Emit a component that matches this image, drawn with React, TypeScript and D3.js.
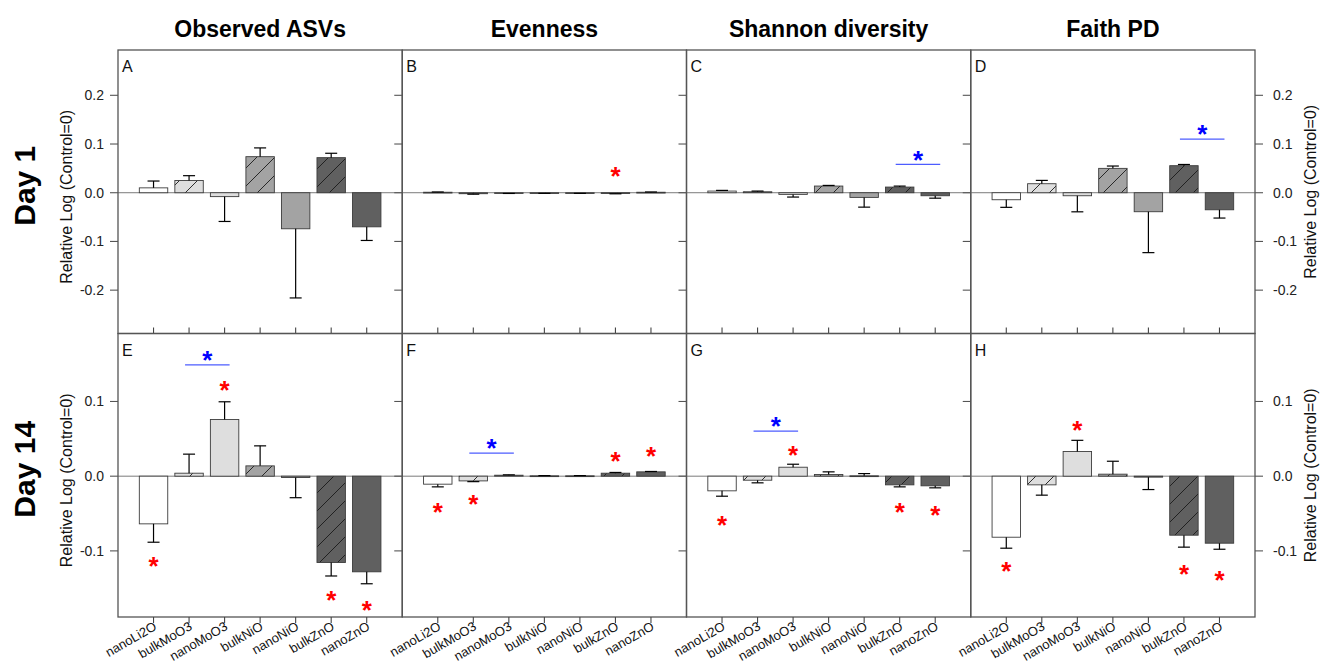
import React, { useEffect, useRef } from 'react';
import * as d3 from 'd3';

// categories + panel headings
const categories = ['nanoLi2O', 'bulkMoO3', 'nanoMoO3', 'bulkNiO', 'nanoNiO', 'bulkZnO', 'nanoZnO'];
const metrics = ['Observed ASVs', 'Evenness', 'Shannon diversity', 'Faith PD'];
const days = ['Day 1', 'Day 14'];
const letters = ['A', 'B', 'C', 'D', 'E', 'F', 'G', 'H'];
const hatched = [false, true, false, true, false, true, false];
const fills = ['#ffffff', '#dedede', '#dedede', '#a3a3a3', '#a3a3a3', '#606060', '#606060'];

// Day 1 means / standard errors
const meanA = [0.010, 0.025, -0.008, 0.074, -0.074, 0.072, -0.070];
const errA = [0.014, 0.010, 0.051, 0.018, 0.142, 0.009, 0.028];
const meanB = [0.001, -0.002, -0.001, -0.0008, -0.0008, -0.0015, 0.001];
const errB = [0.0005, 0.001, 0.0005, 0.0005, 0.0005, 0.0007, 0.0005];
const meanC = [0.0034, 0.002, -0.0034, 0.0137, -0.0096, 0.0116, -0.0062];
const errC = [0.0014, 0.0014, 0.0055, 0.0013, 0.020, 0.002, 0.005];
const meanD = [-0.0144, 0.0185, -0.0062, 0.050, -0.039, 0.0555, -0.035];
const errD = [0.0156, 0.0068, 0.033, 0.0048, 0.084, 0.0025, 0.017];

// Day 14
const meanE = [-0.0638, 0.004, 0.0759, 0.0138, -0.0018, -0.1156, -0.128];
const errE = [0.0246, 0.0255, 0.0237, 0.0268, 0.027, 0.018, 0.016];
const meanF = [-0.0107, -0.0063, 0.0013, 0.0005, 0.0005, 0.004, 0.0058];
const errF = [0.0036, 0.001, 0.0005, 0.0003, 0.0003, 0.001, 0.0005];
const meanG = [-0.0196, -0.0054, 0.012, 0.0022, 0.0005, -0.0116, -0.0129];
const errG = [0.0072, 0.0035, 0.004, 0.0036, 0.003, 0.0027, 0.0027];
const meanH = [-0.0817, -0.0116, 0.033, 0.0027, -0.0013, -0.079, -0.0897];
const errH = [0.0147, 0.0138, 0.015, 0.0173, 0.0166, 0.016, 0.0081];

// significance vs control: [category index, y]
const redA: [number, number][] = [];
const redB: [number, number][] = [[5, 0.0466]];
const redC: [number, number][] = [];
const redD: [number, number][] = [];
const redE: [number, number][] = [[0, -0.112], [2, 0.1228], [5, -0.158], [6, -0.171]];
const redF: [number, number][] = [[0, -0.040], [1, -0.030], [5, 0.0286], [6, 0.0353]];
const redG: [number, number][] = [[0, -0.057], [2, 0.0366], [5, -0.0406], [6, -0.0437]];
const redH: [number, number][] = [[0, -0.119], [2, 0.070], [5, -0.1237], [6, -0.1308]];

// bulk vs nano comparisons: [from, to, y]
const blueC: [number, number, number][] = [[5, 6, 0.058]];
const blueD: [number, number, number][] = [[5, 6, 0.110]];
const blueE: [number, number, number][] = [[1, 2, 0.149]];
const blueF: [number, number, number][] = [[1, 2, 0.0308]];
const blueG: [number, number, number][] = [[1, 2, 0.0603]];

const day1Ticks = [-0.2, -0.1, 0, 0.1, 0.2];
const day14Ticks = [-0.1, 0, 0.1];
const day1Domain: [number, number] = [-0.289, 0.293];
const day14Domain: [number, number] = [-0.1885, 0.191];

const panels = [
  { mean: meanA, err: errA, red: redA, blue: [] as [number, number, number][] },
  { mean: meanB, err: errB, red: redB, blue: [] as [number, number, number][] },
  { mean: meanC, err: errC, red: redC, blue: blueC },
  { mean: meanD, err: errD, red: redD, blue: blueD },
  { mean: meanE, err: errE, red: redE, blue: blueE },
  { mean: meanF, err: errF, red: redF, blue: blueF },
  { mean: meanG, err: errG, red: redG, blue: blueG },
  { mean: meanH, err: errH, red: redH, blue: [] as [number, number, number][] },
];

const FONT = 'Arial, "Liberation Sans", sans-serif';
const STAR = 26; // asterisk font size

const App: React.FC = () => {
  const svgRef = useRef<SVGSVGElement>(null);

  useEffect(() => {
    if (!svgRef.current) return;
    const svg = d3.select(svgRef.current);
    svg.selectAll('*').remove();

    const left = 118, right = 1255, top = 50, bottom = 617;
    const pw = (right - left) / 4;
    const ph = (bottom - top) / 2;
    const fmt = (v: number) => d3.format('.1f')(v).replace('\u2212', '-');

    // hatch pattern
    const defs = svg.append('defs');
    fills.forEach((f, i) => {
      if (!hatched[i]) return;
      const p = defs.append('pattern')
        .attr('id', `hatch${i}`)
        .attr('patternUnits', 'userSpaceOnUse')
        .attr('width', 18).attr('height', 18);
      p.append('rect').attr('width', 18).attr('height', 18).attr('fill', f);
      p.append('path')
        .attr('d', 'M0,18 L18,0 M-4.5,4.5 L4.5,-4.5 M13.5,22.5 L22.5,13.5')
        .attr('stroke', '#1a1a1a').attr('stroke-width', 0.9);
    });

    // column titles
    metrics.forEach((m, c) => {
      svg.append('text')
        .attr('x', left + pw * c + pw / 2)
        .attr('y', 37)
        .attr('text-anchor', 'middle')
        .attr('font-family', FONT)
        .attr('font-weight', 'bold')
        .attr('font-size', 23)
        .attr('fill', '#000')
        .text(m);
    });

    // row labels
    days.forEach((d, r) => {
      const cy = top + ph * r + ph / 2 - 6;
      svg.append('text')
        .attr('transform', `translate(35,${cy}) rotate(-90)`)
        .attr('text-anchor', 'middle')
        .attr('font-family', FONT)
        .attr('font-weight', 'bold')
        .attr('font-size', 30)
        .attr('fill', '#000')
        .text(d);
    });

    panels.forEach((pd, k) => {
      const r = Math.floor(k / 4);
      const c = k % 4;
      const x0 = left + pw * c;
      const y0 = top + ph * r;

      const x = d3.scalePoint<string>()
        .domain(categories)
        .range([x0, x0 + pw])
        .padding(1);
      const y = d3.scaleLinear()
        .domain(r === 0 ? day1Domain : day14Domain)
        .range([y0 + ph, y0]);
      const ticks = r === 0 ? day1Ticks : day14Ticks;
      const bw = x.step() * 0.8;

      const g = svg.append('g');

      // zero line
      g.append('line')
        .attr('x1', x0).attr('x2', x0 + pw)
        .attr('y1', y(0)).attr('y2', y(0))
        .attr('stroke', '#7a7a7a').attr('stroke-width', 1);

      // bars
      g.selectAll('.bar')
        .data(pd.mean)
        .enter().append('rect')
        .attr('x', (_, i) => (x(categories[i]) as number) - bw / 2)
        .attr('y', v => y(Math.max(0, v)))
        .attr('width', bw)
        .attr('height', v => Math.max(0.8, Math.abs(y(v) - y(0))))
        .attr('fill', (_, i) => hatched[i] ? `url(#hatch${i})` : fills[i])
        .attr('stroke', '#3c3c3c')
        .attr('stroke-width', 0.9);

      // error bars (one-sided, in bar direction)
      pd.mean.forEach((v, i) => {
        const cx = x(categories[i]) as number;
        const end = v >= 0 ? v + pd.err[i] : v - pd.err[i];
        g.append('line')
          .attr('x1', cx).attr('x2', cx)
          .attr('y1', y(v)).attr('y2', y(end))
          .attr('stroke', '#000').attr('stroke-width', 1.2);
        g.append('line')
          .attr('x1', cx - 6).attr('x2', cx + 6)
          .attr('y1', y(end)).attr('y2', y(end))
          .attr('stroke', '#000').attr('stroke-width', 1.2);
      });

      // red asterisks
      pd.red.forEach(([i, v]) => {
        g.append('text')
          .attr('x', x(categories[i]) as number)
          .attr('y', y(v) + STAR * 0.57)
          .attr('text-anchor', 'middle')
          .attr('font-family', FONT)
          .attr('font-weight', 'bold')
          .attr('font-size', STAR)
          .attr('fill', '#ff0000')
          .text('*');
      });

      // blue comparison brackets
      pd.blue.forEach(([i, j, v]) => {
        const xa = (x(categories[i]) as number) - 4;
        const xb = (x(categories[j]) as number) + 5;
        g.append('line')
          .attr('x1', xa).attr('x2', xb)
          .attr('y1', y(v)).attr('y2', y(v))
          .attr('stroke', '#4d5cff').attr('stroke-width', 1.3);
        g.append('text')
          .attr('x', (xa + xb) / 2)
          .attr('y', y(v) - 10.5 + STAR * 0.57)
          .attr('text-anchor', 'middle')
          .attr('font-family', FONT)
          .attr('font-weight', 'bold')
          .attr('font-size', STAR)
          .attr('fill', '#0000ff')
          .text('*');
      });

      // frame
      g.append('rect')
        .attr('x', x0).attr('y', y0)
        .attr('width', pw).attr('height', ph)
        .attr('fill', 'none')
        .attr('stroke', '#555').attr('stroke-width', 1.3);

      // y ticks on left border (pointing left)
      ticks.forEach(t => {
        g.append('line')
          .attr('x1', x0 - 8).attr('x2', x0)
          .attr('y1', y(t)).attr('y2', y(t))
          .attr('stroke', '#555').attr('stroke-width', 1.1);
      });
      if (c === 3) {
        ticks.forEach(t => {
          g.append('line')
            .attr('x1', x0 + pw).attr('x2', x0 + pw + 8)
            .attr('y1', y(t)).attr('y2', y(t))
            .attr('stroke', '#555').attr('stroke-width', 1.1);
          g.append('text')
            .attr('x', x0 + pw + 18)
            .attr('y', y(t) + 5)
            .attr('font-family', FONT)
            .attr('font-size', 14)
            .attr('fill', '#222')
            .text(fmt(t));
        });
        g.append('text')
          .attr('transform', `translate(${x0 + pw + 61},${y0 + ph / 2}) rotate(-90)`)
          .attr('text-anchor', 'middle')
          .attr('font-family', FONT)
          .attr('font-size', 16)
          .attr('fill', '#111')
          .text('Relative Log (Control=0)');
      }
      if (c === 0) {
        ticks.forEach(t => {
          g.append('text')
            .attr('x', x0 - 14)
            .attr('y', y(t) + 5)
            .attr('text-anchor', 'end')
            .attr('font-family', FONT)
            .attr('font-size', 14)
            .attr('fill', '#222')
            .text(fmt(t));
        });
        g.append('text')
          .attr('transform', `translate(72,${y0 + ph / 2 + 5}) rotate(-90)`)
          .attr('text-anchor', 'middle')
          .attr('font-family', FONT)
          .attr('font-size', 16)
          .attr('fill', '#111')
          .text('Relative Log (Control=0)');
      }

      // x ticks
      categories.forEach(cat => {
        const cx = x(cat) as number;
        g.append('line')
          .attr('x1', cx).attr('x2', cx)
          .attr('y1', r === 0 ? y0 + ph - 6 : y0 + ph)
          .attr('y2', r === 0 ? y0 + ph : y0 + ph + 6)
          .attr('stroke', '#444').attr('stroke-width', 1.1);
        if (r === 1) {
          g.append('text')
            .attr('transform', `translate(${cx + 4},${y0 + ph + 12}) rotate(-30)`)
            .attr('text-anchor', 'end')
            .attr('font-family', FONT)
            .attr('font-size', 13)
            .attr('fill', '#111')
            .text(cat);
        }
      });

      // panel letter
      g.append('text')
        .attr('x', x0 + 4)
        .attr('y', y0 + 22)
        .attr('font-family', FONT)
        .attr('font-size', 16)
        .attr('fill', '#111')
        .text(letters[k]);
    });
  }, []);

  return (
    <svg
      ref={svgRef}
      width={1322}
      height={662}
      style={{ position: 'absolute', left: 0, top: 0, background: '#fff' }}
    />
  );
};

export default App;
